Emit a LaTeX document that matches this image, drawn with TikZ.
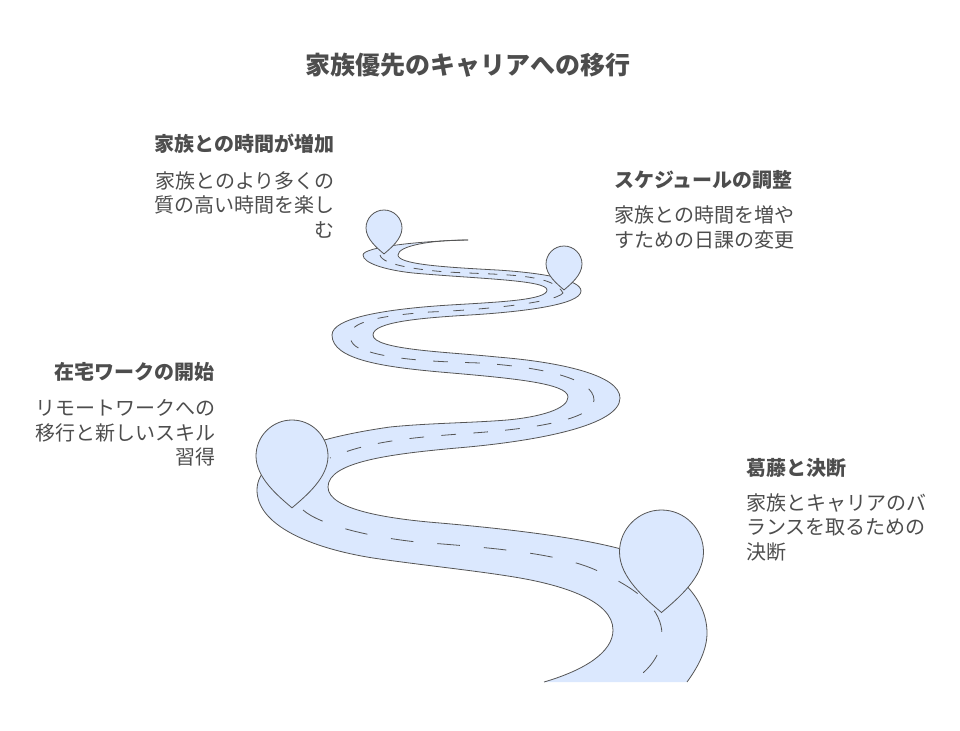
\documentclass[tikz,border=0pt]{standalone}
\usepackage{fontspec}
\setmainfont{Noto Sans CJK JP}
\definecolor{roadblue}{HTML}{DBE8FE}
\definecolor{roadline}{HTML}{555555}
\definecolor{textgrey}{HTML}{4D4D4D}
\newcommand*{\roadupper}{(468,240) .. controls (430,240) and (398,246) .. (398,255) .. controls (398,264) and (440,267) .. (497,270) .. controls (545,273) and (581,280) .. (581,291) .. controls (581,305) and (520,312) .. (470,315) .. controls (420,318) and (373,322) .. (373,335) .. controls (373,350) and (450,352) .. (497,357) .. controls (560,362) and (620,375) .. (620,398) .. controls (620,425) and (540,441) .. (457,448) .. controls (390,454) and (328,462) .. (328,487) .. controls (328,510) and (390,519) .. (440,523) .. controls (520,530) and (600,540) .. (640,555) .. controls (680,572) and (707,600) .. (707,633) .. controls (707,650) and (698,667) .. (687,682)}
\newcommand*{\roadlower}[1]{#1 (544,682) .. controls (585,670) and (613,652) .. (613,630) .. controls (613,600) and (560,585) .. (520,578) .. controls (480,571) and (420,565) .. (373,558) .. controls (310,548) and (257,525) .. (257,490) .. controls (257,455) and (320,437) .. (390,427) .. controls (430,423) and (470,423) .. (507,420) .. controls (540,417) and (568,409) .. (568,397) .. controls (568,383) and (510,378) .. (440,372) .. controls (385,367) and (332,360) .. (332,335) .. controls (332,318) and (385,309) .. (450,305) .. controls (500,302) and (547,300) .. (547,290) .. controls (547,280) and (480,279) .. (413,273) .. controls (385,270) and (363,263) .. (363,255) .. controls (363,247) and (420,241) .. (468,240)}
\newcommand*{\pinmark}[3]{\draw [pinshape, shift={(#1,#2)}, scale=#3] (0,1.44) .. controls (-.4,1.1) and (-1,.6) .. (-1,0) .. controls (-1,-.55) and (-.55,-1) .. (0,-1) .. controls (.55,-1) and (1,-.55) .. (1,0) .. controls (1,.6) and (.4,1.1) .. (0,1.44) -- cycle;}
\tikzset{
    pinshape/.style = {fill=roadblue, draw=roadline, line width=.6pt},
    roadedge/.style = {draw=roadline, line width=.6pt},
    midline/.style  = {draw=roadline, line width=.6pt},
    titletext/.style= {text=textgrey, font=\fontsize{18.75}{22}\selectfont\bfseries},
    headtext/.style = {text=textgrey, font=\fontsize{15}{18.75}\selectfont\bfseries},
    bodytext/.style = {text=textgrey, font=\fontsize{15}{18.5}\selectfont, inner sep=0pt},
}
\begin{document}
\begin{tikzpicture}[x=.75pt, y=-.75pt]
    \useasboundingbox (0,0) rectangle (960,731);
    \node [titletext] (title) at (468,65) {家族優先のキャリアへの移行};
    % road
    \fill [roadblue] \roadupper \roadlower{--} -- cycle;
    \draw [roadedge] \roadupper;
    \draw [roadedge] \roadlower{};
    \draw [midline, dash pattern=on 7pt off 7pt] (380,255) .. controls (382,265) and (420,270) .. (447,272) .. controls (500,275) and (553,273) .. (563,293);
    \draw [midline, dash pattern=on 8pt off 11pt] (563,293) .. controls (555,303) and (480,310) .. (430,312) .. controls (390,315) and (350,320) .. (350,335) .. controls (350,345) and (358,349) .. (370,352);
    \draw [midline, dash pattern=on 11pt off 13pt] (370,352) .. controls (400,361) and (450,362) .. (480,363) .. controls (540,367) and (594,378) .. (594,400) .. controls (594,420) and (530,429) .. (473,433) .. controls (420,437) and (370,440) .. (330,458);
    \draw [midline, dash pattern=on 17pt off 18pt] (303,510) .. controls (320,525) and (370,537) .. (417,542) .. controls (480,547) and (560,552) .. (600,572) .. controls (640,590) and (662,610) .. (662,635) .. controls (662,655) and (648,672) .. (630,682);
    % markers
    \pinmark{384}{228}{18}
    \pinmark{564}{264}{18}
    \pinmark{292}{456}{36}
    \pinmark{661.5}{552}{42}
    % labels
    \node [headtext, anchor=east, inner sep=0pt] (headone) at (335,144) {家族との時間が増加};
    \node [bodytext, anchor=north east, align=right] (bodyone) at (335,171) {家族とのより多くの\\質の高い時間を楽し\\む};
    \node [headtext, anchor=west, inner sep=0pt] (headtwo) at (614,180) {スケジュールの調整};
    \node [bodytext, anchor=north west, align=left] (bodytwo) at (614,205.5) {家族との時間を増や\\すための日課の変更};
    \node [headtext, anchor=east, inner sep=0pt] (headthree) at (215,372) {在宅ワークの開始};
    \node [bodytext, anchor=north east, align=right] (bodythree) at (215.5,399) {リモートワークへの\\移行と新しいスキル\\習得};
    \node [headtext, anchor=west, inner sep=0pt] (headfour) at (746,468) {葛藤と決断};
    \node [bodytext, anchor=north west, align=left] (bodyfour) at (746,493) {家族とキャリアのバ\\ランスを取るための\\決断};
\end{tikzpicture}
\end{document}
